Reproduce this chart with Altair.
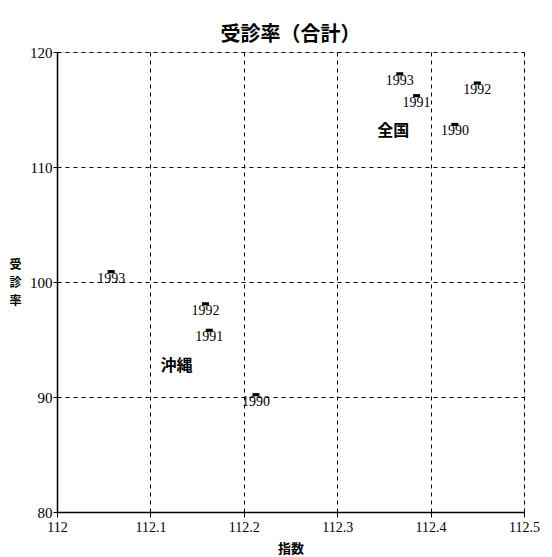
import altair as alt
import pandas as pd

# Data
nat_years = ["1990", "1991", "1992", "1993"]
nat_x = [112.426, 112.385, 112.450, 112.367]
nat_y = [113.7, 116.2, 117.3, 118.1]

oki_years = ["1990", "1991", "1992", "1993"]
oki_x = [112.213, 112.163, 112.159, 112.058]
oki_y = [90.2, 95.8, 98.1, 100.9]

group_names = ["全国", "沖縄"]
group_x = [112.360, 112.128]
group_y = [113.1, 92.7]

x_ticks = [112, 112.1, 112.2, 112.3, 112.4, 112.5]
y_ticks = [80, 90, 100, 110, 120]

pts = pd.DataFrame({
    "x": nat_x + oki_x,
    "y": nat_y + oki_y,
    "year": nat_years + oki_years,
})
groups = pd.DataFrame({"x": group_x, "y": group_y, "name": group_names})

xscale = alt.Scale(domain=[112, 112.5], nice=False, zero=False)
yscale = alt.Scale(domain=[80, 120], nice=False, zero=False)

xaxis = alt.Axis(
    values=x_ticks, labelExpr="datum.value", title="指数",
    grid=True, gridDash=[4, 4], gridColor="black", gridOpacity=1, gridWidth=1,
    domainColor="black", domainWidth=1.5, tickColor="black", tickSize=5,
    labelFont="Liberation Serif", labelFontSize=14, labelColor="black",
    labelPadding=3, labelFlush=False,
    titleFont="Noto Sans CJK JP", titleFontSize=13, titleFontWeight="bold",
    titleColor="black", titlePadding=8,
)
yaxis = alt.Axis(
    values=y_ticks, title=["受", "診", "率"], titleAngle=0,
    titleAlign="center", titleBaseline="middle", titleLineHeight=18,
    titleX=-42, titleY=212,
    grid=True, gridDash=[4, 4], gridColor="black", gridOpacity=1, gridWidth=1,
    domainColor="black", domainWidth=1.5, tickColor="black", tickSize=4,
    labelFont="Liberation Serif", labelFontSize=15, labelColor="black",
    labelPadding=1, labelFlush=False,
    titleFont="Noto Sans CJK JP", titleFontSize=12, titleFontWeight="bold",
    titleColor="black",
)

base = alt.Chart(pts)

markers = base.mark_point(
    shape="M-1,-0.45L1,-0.45L1,0.45L-1,0.45Z", filled=True, color="black",
    size=50, opacity=1,
).encode(
    x=alt.X("x:Q", scale=xscale, axis=xaxis),
    y=alt.Y("y:Q", scale=yscale, axis=yaxis),
)

labels = base.mark_text(
    font="Liberation Serif", fontSize=14, color="black",
    baseline="top", dy=0, align="center",
).encode(
    x=alt.X("x:Q", scale=xscale),
    y=alt.Y("y:Q", scale=yscale),
    text="year:N",
)

glabels = alt.Chart(groups).mark_text(
    font="Noto Sans CJK JP", fontSize=16, fontWeight="bold", color="black",
    align="center", baseline="middle",
).encode(
    x=alt.X("x:Q", scale=xscale),
    y=alt.Y("y:Q", scale=yscale),
    text="name:N",
)

chart = alt.layer(markers, labels, glabels).properties(
    width=467, height=460,
    padding={"left": 49, "top": 44, "right": 20, "bottom": 44},
    autosize=alt.AutoSizeParams(type="none"),
    title=alt.TitleParams(
        "受診率（合計）", font="Noto Sans CJK JP", fontSize=20,
        fontWeight="bold", color="black", anchor="middle", offset=0,
    ),
).configure_view(strokeWidth=0).configure(background="white")

chart.save("out.html", embed_options={"renderer": "svg", "actions": False})
